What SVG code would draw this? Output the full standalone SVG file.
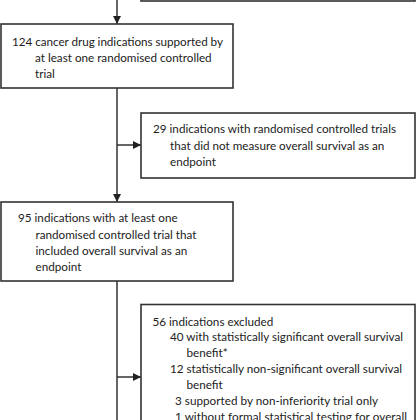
<svg xmlns="http://www.w3.org/2000/svg" width="420" height="420" viewBox="0 0 420 420">
<defs>
<marker id="ah" viewBox="0 0 10 10" refX="10" refY="5" markerWidth="8" markerHeight="8" markerUnits="userSpaceOnUse" orient="auto">
<path d="M0,0 L10,5 L0,10 Z" fill="#222"/>
</marker>
<style>
.box{fill:#fff;stroke:#333;stroke-width:1.6}
.ln{fill:none;stroke:#333;stroke-width:1.5}
text{font-family:Lato,"Liberation Sans",sans-serif;font-size:11.7px;fill:#222}
</style>
</defs>
<rect width="420" height="420" fill="#fff"/>
<g id="connectors">
<line class="ln" x1="117" y1="0" x2="117" y2="24" marker-end="url(#ah)"/>
<line class="ln" x1="117" y1="88" x2="117" y2="202" marker-end="url(#ah)"/>
<line class="ln" x1="117" y1="145" x2="141" y2="145" marker-end="url(#ah)"/>
<line class="ln" x1="117" y1="281" x2="117" y2="420"/>
<line class="ln" x1="117" y1="377" x2="141" y2="377" marker-end="url(#ah)"/>
</g>
<g id="node0">
<rect class="box" x="141" y="-40" width="274" height="41"/>
</g>
<g id="node1">
<rect class="box" x="1" y="24" width="232" height="64"/>
<text x="12" y="45.5" textLength="211">124 cancer drug indications supported by</text>
<text x="35" y="61.5">at least one randomised controlled</text>
<text x="35" y="77.5">trial</text>
</g>
<g id="node2">
<rect class="box" x="141" y="113" width="274" height="65"/>
<text x="153" y="133" textLength="243">29 indications with randomised controlled trials</text>
<text x="170" y="149.5">that did not measure overall survival as an</text>
<text x="170" y="166">endpoint</text>
</g>
<g id="node3">
<rect class="box" x="1" y="202" width="232" height="79"/>
<text x="18" y="222">95 indications with at least one</text>
<text x="35.5" y="238.5">randomised controlled trial that</text>
<text x="35.5" y="255">included overall survival as an</text>
<text x="35.5" y="271">endpoint</text>
</g>
<g id="node4">
<rect class="box" x="141" y="304.5" width="274" height="140"/>
<text x="152.5" y="325.5">56 indications excluded</text>
<text x="170" y="341" textLength="233">40 with statistically significant overall survival</text>
<text x="186.5" y="357">benefit*</text>
<text x="170" y="373" textLength="232">12 statistically non-significant overall survival</text>
<text x="186.5" y="389">benefit</text>
<text x="175" y="405" textLength="203">3 supported by non-inferiority trial only</text>
<text x="175" y="420.5" textLength="232">1 without formal statistical testing for overall</text>
</g>
</svg>
